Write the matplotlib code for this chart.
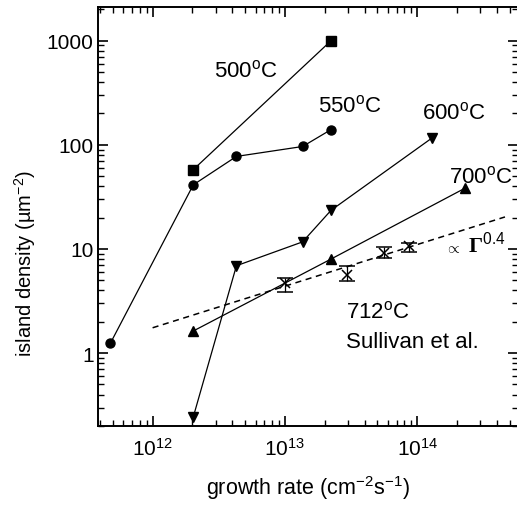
import matplotlib
matplotlib.use("Agg")
import matplotlib.pyplot as plt
from matplotlib.ticker import LogLocator, FixedLocator, NullFormatter, FuncFormatter

plt.rcParams['font.family'] = ['Liberation Sans', 'DejaVu Sans']
plt.rcParams['mathtext.fontset'] = 'custom'
plt.rcParams['mathtext.rm'] = 'Liberation Sans'
plt.rcParams['mathtext.it'] = 'Liberation Sans:italic'
plt.rcParams['mathtext.bf'] = 'Liberation Serif:bold'

# island density vs growth rate, per temperature
rate_500 = [2.03e12, 2.23e13]
dens_500 = [57.8, 1000]

rate_550 = [4.8e11, 2.03e12, 4.3e12, 1.36e13, 2.23e13]
dens_550 = [1.245, 41.3, 77.4, 96.4, 140]

rate_600 = [2.03e12, 4.3e12, 1.36e13, 2.23e13, 1.3e14]
dens_600 = [0.244, 6.9, 11.7, 23.5, 117]

rate_700 = [2.03e12, 2.23e13, 2.3e14]
dens_700 = [1.63, 8.0, 38.4]

# Sullivan et al. 712 C
rate_sul = [1.0e13, 2.95e13, 5.65e13, 8.65e13]
dens_sul = [4.7, 5.65, 9.2, 10.7]
sul_lo = [3.9, 4.9, 8.15, 9.4]
sul_hi = [5.3, 6.8, 10.5, 11.3]

# power-law guide ~ Gamma^0.4
fit_rate = [1.0e12, 4.6e14]
fit_dens = [1.75, 20.3]

fig = plt.figure(figsize=(5.17, 5.10), dpi=100)
ax = fig.add_axes([0.1905, 0.163, 0.812, 0.821])

lw = 0.9
ax.plot(rate_500, dens_500, color='k', lw=lw, marker='s', ms=6.5)
ax.plot(rate_550, dens_550, color='k', lw=lw, marker='o', ms=6.5)
ax.plot(rate_600, dens_600, color='k', lw=lw, marker='v', ms=7.5)
ax.plot(rate_700, dens_700, color='k', lw=lw, marker='^', ms=7.5)
ax.plot(fit_rate, fit_dens, color='k', lw=1.1, ls=(0, (4, 3)))

yerr = [[d - l for d, l in zip(dens_sul, sul_lo)],
        [h - d for d, h in zip(dens_sul, sul_hi)]]
ax.errorbar(rate_sul, dens_sul, yerr=yerr, fmt='x', color='k', ms=7,
            mew=1.1, elinewidth=0.9, capsize=6, capthick=1.2)

ax.set_xscale('log')
ax.set_yscale('log')
ax.set_xlim(3.9e11, 5.8e14)
ax.set_ylim(0.2, 2100)

ax.xaxis.set_major_locator(FixedLocator([1e12, 1e13, 1e14]))
ax.xaxis.set_minor_locator(LogLocator(base=10, subs=range(2, 10), numticks=20))
ax.xaxis.set_minor_formatter(NullFormatter())
ax.yaxis.set_major_locator(FixedLocator([1, 10, 100, 1000]))
ax.yaxis.set_major_formatter(FuncFormatter(lambda v, p: '%d' % v))
ax.yaxis.set_minor_locator(LogLocator(base=10, subs=range(2, 10), numticks=20))
ax.yaxis.set_minor_formatter(NullFormatter())

ax.tick_params(which='both', direction='in', top=True, right=True, labelsize=15)
ax.tick_params(which='major', length=7, width=1.2)
ax.tick_params(which='minor', length=4, width=1.0)
ax.tick_params(axis='x', pad=8)
for s in ax.spines.values():
    s.set_linewidth(1.4)

ax.set_xlabel(r'growth rate (cm$^{-2}$s$^{-1}$)', fontsize=15.5, labelpad=10)
ax.set_ylabel(r'island density (µm$^{-2}$)', fontsize=14.5)
ax.yaxis.set_label_coords(-0.145, 0.39)

fs = 16
ax.text(2.9e12, 454, r'500$^\mathrm{o}$C', fontsize=fs)
ax.text(1.78e13, 211, r'550$^\mathrm{o}$C', fontsize=fs)
ax.text(1.09e14, 181, r'600$^\mathrm{o}$C', fontsize=fs)
ax.text(1.75e14, 43.5, r'700$^\mathrm{o}$C', fontsize=fs)
ax.text(1.62e14, 9.4, r'$\propto$', fontsize=11)
ax.text(2.4e14, 9.4, r'$\mathbf{\Gamma}^{0.4}$', fontsize=fs)
ax.text(2.9e13, 2.2, r'712$^\mathrm{o}$C', fontsize=fs)
ax.text(2.9e13, 1.14, 'Sullivan et al.', fontsize=fs)

fig.savefig('out.png', dpi=100)
